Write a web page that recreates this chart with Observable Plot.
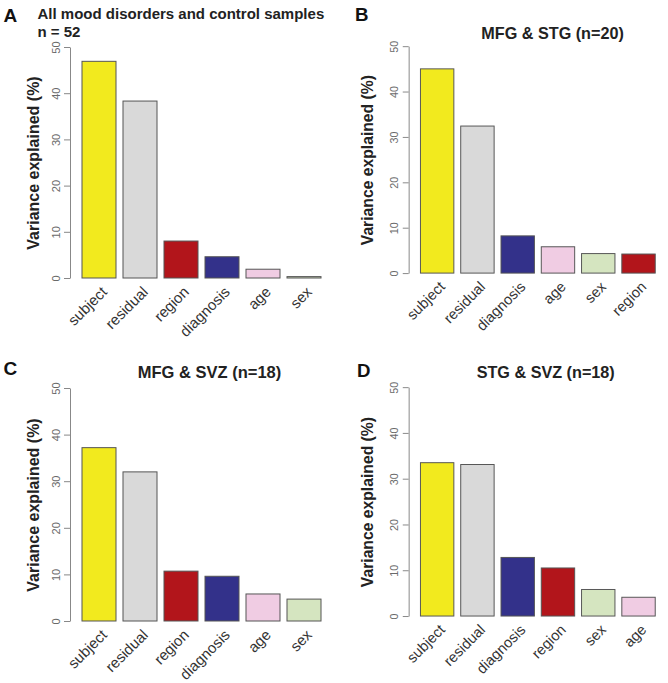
<!DOCTYPE html>
<html>
<head>
<meta charset="utf-8">
<script src="https://cdn.jsdelivr.net/npm/d3@7"></script>
<script src="https://cdn.jsdelivr.net/npm/@observablehq/plot@0.6"></script>
<style>
  html, body { margin: 0; padding: 0; background: #fff; overflow: hidden; }
  #wrap { position: relative; width: 668px; height: 683px; overflow: hidden; background: #fff; }
  .panel { position: absolute; }
</style>
</head>
<body>
<div id="wrap"></div>
<script>
// ---- data ----
const catsA = ["subject", "residual", "region", "diagnosis", "age", "sex"];
const valsA = [46.9, 38.3, 8.0, 4.6, 1.9, 0.3];
const catsB = ["subject", "residual", "diagnosis", "age", "sex", "region"];
const valsB = [45.0, 32.4, 8.2, 5.8, 4.3, 4.2];
const catsC = ["subject", "residual", "region", "diagnosis", "age", "sex"];
const valsC = [37.2, 32.0, 10.7, 9.6, 5.8, 4.7];
const catsD = ["subject", "residual", "diagnosis", "region", "sex", "age"];
const valsD = [33.5, 33.1, 12.8, 10.5, 5.8, 4.1];
const colorKeys = ["subject", "residual", "region", "diagnosis", "age", "sex"];
const colorVals = ["#F2EA1E", "#D9D9D9", "#B2151B", "#33318A", "#F0CCE3", "#D5E5C0"];
const yTicks = [0, 10, 20, 30, 40, 50];
const yLabel = "Variance explained (%)";

const FONT = "'Liberation Sans', Arial, Helvetica, sans-serif";

const panels = [
  {cats: catsA, vals: valsA, left: 0, top: 0, width: 334, height: 340, mL: 70, mR: 0, mT: 47, mB: 62, yLabDx: -37,
   letter: {t: "A", x: 3, y: 21},
   titles: [{t: "All mood disorders and control samples", x: 37, y: 18, a: "start", s: 15},
            {t: "n = 52", x: 37, y: 36, a: "start", s: 15}]},
  {cats: catsB, vals: valsB, left: 334, top: 0, width: 340, height: 340, mL: 76, mR: 0, mT: 47, mB: 62, yLabDx: -42,
   letter: {t: "B", x: 21, y: 21},
   titles: [{t: "MFG & STG (n=20)", x: 222, y: 39, a: "middle", s: 16.5}]},
  {cats: catsC, vals: valsC, left: 0, top: 340, width: 334, height: 343, mL: 70, mR: 0, mT: 48, mB: 62, yLabDx: -37,
   letter: {t: "C", x: 3, y: 34},
   titles: [{t: "MFG & SVZ (n=18)", x: 209, y: 37, a: "middle", s: 16.5}]},
  {cats: catsD, vals: valsD, left: 334, top: 340, width: 340, height: 343, mL: 76, mR: 0, mT: 48, mB: 62, yLabDx: -42,
   letter: {t: "D", x: 23, y: 37},
   titles: [{t: "STG & SVZ (n=18)", x: 215, y: 38, a: "middle", s: 16.5}]}
];

const wrap = document.getElementById("wrap");

for (const p of panels) {
  const data = p.cats.map((c, i) => ({cat: c, val: p.vals[i]}));
  const W = p.width - p.mL - p.mR;
  const H = p.height - p.mT - p.mB;
  const textMarks = [
    Plot.text([p.letter.t], {text: d => d, frameAnchor: "top-left", textAnchor: "start", lineAnchor: "bottom",
      dx: p.letter.x - p.mL, dy: p.letter.y - p.mT, fontSize: 19, fontWeight: "bold", fill: "#111"}),
    ...p.titles.map(tt => Plot.text([tt.t], {text: d => d, frameAnchor: "top-left", textAnchor: tt.a, lineAnchor: "bottom",
      dx: tt.x - p.mL, dy: tt.y - p.mT, fontSize: tt.s, fontWeight: "bold", fill: "#222"})),
    Plot.text([yLabel], {text: d => d, frameAnchor: "left", rotate: -90, textAnchor: "middle", lineAnchor: "middle",
      dx: p.yLabDx, fontSize: 16, fontWeight: "bold", fill: "#222"})
  ];
  const chart = Plot.plot({
    width: p.width,
    height: p.height,
    marginLeft: p.mL,
    marginRight: p.mR,
    marginTop: p.mT,
    marginBottom: p.mB,
    style: {fontFamily: FONT, background: "#fff", overflow: "visible"},
    x: {domain: p.cats, paddingInner: 0.1667, paddingOuter: 0.233, label: null},
    y: {domain: [0, 50], label: null},
    color: {domain: colorKeys, range: colorVals},
    marks: [
      // left axis line only: dash pattern shows just the left edge of the frame
      Plot.frame({stroke: "#888", strokeWidth: 1, strokeDasharray: `0,${2 * W + H},${H}`}),
      Plot.barY(data, {x: "cat", y: "val", fill: "cat", stroke: "#555", strokeWidth: 1}),
      Plot.axisY({ticks: yTicks, tickSize: 6, tickPadding: 5, tickRotate: -90, fontSize: 11,
        stroke: "#888", fill: "#6a6a6a", label: null}),
      Plot.axisX({tickSize: 0, tickRotate: -45, tickPadding: 11, dx: 5, fontSize: 15, fill: "#333", label: null}),
      ...textMarks
    ]
  });
  const div = document.createElement("div");
  div.className = "panel";
  div.style.left = p.left + "px";
  div.style.top = p.top + "px";
  div.appendChild(chart);
  wrap.appendChild(div);
}
</script>
</body>
</html>
